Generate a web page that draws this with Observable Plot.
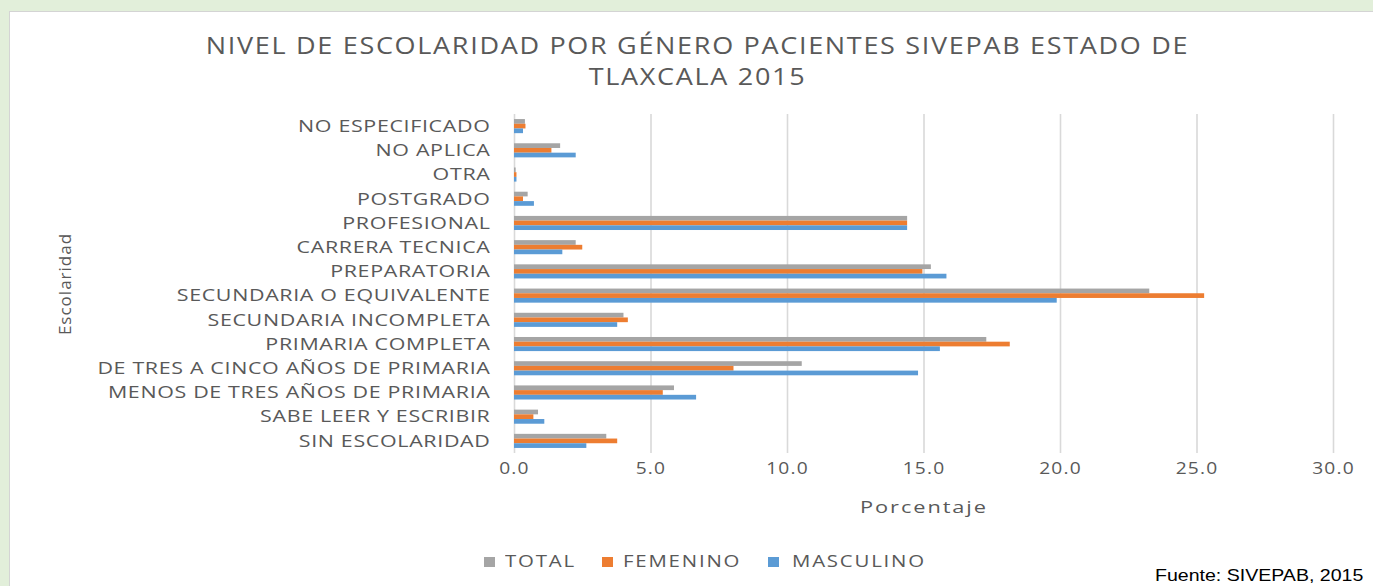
<!DOCTYPE html>
<html>
<head>
<meta charset="utf-8">
<script src="https://cdn.jsdelivr.net/npm/d3@7"></script>
<script src="https://cdn.jsdelivr.net/npm/@observablehq/plot@0.6"></script>
<style>
  html, body { margin: 0; padding: 0; }
  body { width: 1373px; height: 586px; background: #e2efda; position: relative; overflow: hidden; font-family: "Open Sans", sans-serif; }
  #panel { position: absolute; left: 9px; top: 11px; width: 1380px; height: 600px; background: #fff; border-left: 1px solid #d4d4d4; border-top: 1px solid #d4d4d4; }
  #chart { position: absolute; left: 0; top: 0; }
  .title { position: absolute; left: 0; width: 1395px; text-align: center; color: #595959; font-size: 24px; letter-spacing: 1.5px; white-space: nowrap; transform: scaleX(1.125); transform-origin: 697.5px 0; }
  .leg { position: absolute; top: 550px; font-size: 17px; color: #595959; letter-spacing: 1.5px; line-height: 22px; white-space: nowrap; transform: scaleX(1.2); transform-origin: 0 0; }
  .sw { position: absolute; top: 557px; width: 11px; height: 10px; }
  #caption { position: absolute; left: 1155px; top: 566px; font-family: "Liberation Sans", Arial, sans-serif; font-size: 17px; line-height: 19px; color: #000; white-space: nowrap; transform: scaleX(1.15); transform-origin: 0 0; }
</style>
</head>
<body>
<div id="panel"></div>
<div id="chart"></div>
<div class="title" style="top:28px">NIVEL DE ESCOLARIDAD POR GÉNERO PACIENTES SIVEPAB ESTADO DE</div>
<div class="title" style="top:59px">TLAXCALA 2015</div>
<div id="legend"></div>
<div id="caption">Fuente: SIVEPAB, 2015</div>
<script>
const categories = ["NO ESPECIFICADO","NO APLICA","OTRA","POSTGRADO","PROFESIONAL","CARRERA TECNICA","PREPARATORIA","SECUNDARIA O EQUIVALENTE","SECUNDARIA INCOMPLETA","PRIMARIA COMPLETA","DE TRES A CINCO AÑOS DE PRIMARIA","MENOS DE TRES AÑOS DE PRIMARIA","SABE LEER Y ESCRIBIR","SIN ESCOLARIDAD"];
const total     = [0.40, 1.69, 0.06, 0.50, 14.40, 2.26, 15.27, 23.27, 4.01, 17.30, 10.54, 5.86, 0.88, 3.38];
const femenino  = [0.42, 1.37, 0.09, 0.33, 14.40, 2.50, 14.96, 25.28, 4.17, 18.16, 8.04, 5.45, 0.71, 3.78];
const masculino = [0.33, 2.26, 0.09, 0.73, 14.40, 1.77, 15.84, 19.88, 3.78, 15.60, 14.80, 6.67, 1.11, 2.65];
const seriesNames = ["TOTAL", "FEMENINO", "MASCULINO"];
const seriesColors = ["#a5a5a5", "#ed7d31", "#5b9bd5"];
const xTicks = [0, 5, 10, 15, 20, 25, 30];

const rows = categories.map((c, i) => ({cat: c, total: total[i], femenino: femenino[i], masculino: masculino[i]}));
const barH = 4.7;

const chart = Plot.plot({
  width: 1373,
  height: 523,
  marginTop: 114,
  marginBottom: 70,
  marginLeft: 514,
  marginRight: 40,
  style: {background: "transparent", color: "#595959", fontFamily: "Open Sans, sans-serif"},
  x: {domain: [0, 30], ticks: xTicks},
  y: {domain: categories, paddingInner: 1 - 0.194, paddingOuter: (1 - 0.194) / 2, round: false},
  marks: [
    Plot.gridX(xTicks, {stroke: "#d9d9d9", strokeOpacity: 1, strokeWidth: 1.6}),
    Plot.barX(rows, {y: "cat", x: "total", fill: seriesColors[0], dy: -barH}),
    Plot.barX(rows, {y: "cat", x: "femenino", fill: seriesColors[1]}),
    Plot.barX(rows, {y: "cat", x: "masculino", fill: seriesColors[2], dy: barH}),
    Plot.axisY({tickSize: 0, tickPadding: 24, fontSize: 16.5, label: null}),
    Plot.axisX({ticks: xTicks, tickSize: 0, tickPadding: 9, fontSize: 16, tickFormat: d3.format(".1f"), label: null}),
    Plot.text(["Porcentaje"], {frameAnchor: "bottom", dy: 59, fontSize: 17, fill: "#595959"}),
    Plot.text(["Escolaridad"], {frameAnchor: "left", textAnchor: "middle", dx: -449, rotate: -90, fontSize: 17, fill: "#595959"})
  ]
});
document.getElementById("chart").appendChild(chart);

// widen glyphs horizontally like the reference rendering
const isNum = v => v != null && v !== "" && !isNaN(+v);
function stretch(sel, s, ls) {
  sel.each(function () {
    const t = d3.select(this);
    const ax = t.attr("x"), ay = t.attr("y");
    const x = isNum(ax) ? +ax : 0, y = isNum(ay) ? +ay : 0;
    if (isNum(ax)) t.attr("x", null);
    if (isNum(ay)) t.attr("y", null);
    const tr = t.attr("transform") || "";
    t.attr("transform", `${tr} translate(${x},${y}) scale(${s},1)`)
     .style("letter-spacing", ls + "px");
  });
}
const svg = d3.select(chart);
stretch(svg.selectAll("g[aria-label='y-axis tick label'] text"), 1.3, 0.5);
stretch(svg.selectAll("g[aria-label='x-axis tick label'] text"), 1.2, 1);
svg.selectAll("g[aria-label='text'] text").each(function () {
  const t = d3.select(this);
  if (t.text() === "Porcentaje") stretch(t, 1.28, 1.5);
  else t.style("letter-spacing", "1px");
});

// legend
const legend = document.getElementById("legend");
const swLeft = [484, 602, 768];
const txLeft = [505, 623, 792];
seriesNames.forEach((s, i) => {
  const sw = document.createElement("div");
  sw.className = "sw"; sw.style.left = swLeft[i] + "px"; sw.style.background = seriesColors[i];
  legend.appendChild(sw);
  const t = document.createElement("div");
  t.className = "leg"; t.style.left = txLeft[i] + "px"; t.textContent = s;
  legend.appendChild(t);
});
</script>
</body>
</html>
